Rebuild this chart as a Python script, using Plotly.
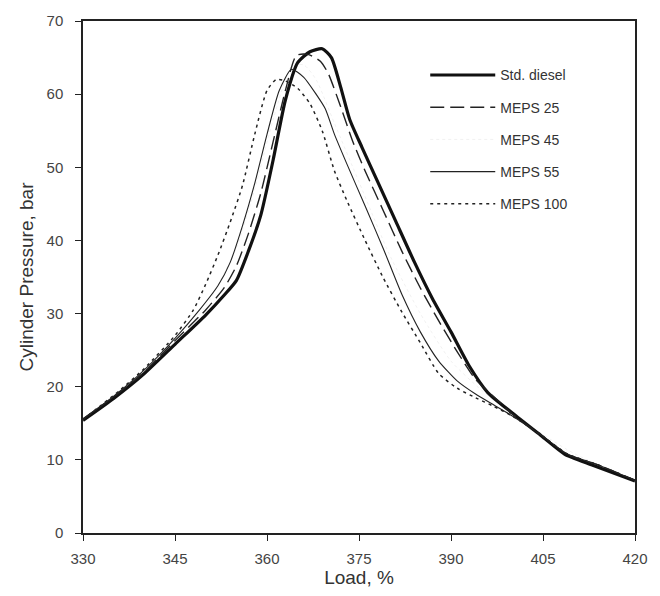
import plotly.graph_objects as go

# ---- data ----
std_x = [330, 335, 340, 345, 350, 353, 355, 357, 359, 361, 363, 365, 367, 369, 370.5, 372, 373.5, 375.5, 378, 381, 384, 387, 390, 393, 396, 400, 405, 408.5, 413, 420]
std_y = [15.4, 18.4, 21.8, 25.8, 29.8, 32.5, 34.5, 38.6, 43.5, 51.0, 59.2, 64.3, 65.8, 66.2, 65.0, 61.0, 56.5, 52.7, 48.1, 42.6, 37.1, 32.0, 27.5, 22.8, 19.2, 16.4, 13.1, 10.8, 9.3, 7.1]

m25_x = [330, 335, 340, 345, 350, 353, 355, 357, 359, 361, 363, 364.8, 366.8, 368.7, 370, 372, 374, 376, 379, 382, 385, 388, 391, 394, 397, 400, 405, 409, 414, 420]
m25_y = [15.6, 18.6, 22.0, 26.3, 30.5, 33.5, 36.5, 41.0, 46.5, 53.5, 60.5, 65.3, 65.4, 64.5, 62.8, 58.3, 53.5, 49.5, 44.0, 38.5, 33.5, 29.0, 24.8, 21.0, 18.6, 16.3, 13.2, 10.7, 9.3, 7.2]

m45_x = [330, 340, 350, 355, 358, 361, 364, 366, 368, 371, 375, 380, 385, 390, 395, 400, 410, 420]
m45_y = [15.5, 22.1, 31.0, 39.0, 47.0, 56.5, 63.8, 64.0, 62.0, 56.0, 48.0, 38.0, 30.0, 23.5, 19.5, 16.2, 10.9, 7.2]

m55_x = [330, 335, 340, 345, 349, 352, 354, 356, 358, 360, 362, 364, 366, 368, 369.5, 371, 373, 376, 379, 382, 385, 388, 391, 394, 397, 400, 405, 409, 414, 420]
m55_y = [15.6, 18.7, 22.3, 26.6, 30.5, 33.8, 37.0, 42.0, 47.8, 54.5, 60.5, 63.4, 62.3, 60.0, 58.0, 54.5, 50.5, 44.7, 38.8, 32.6, 27.5, 23.5, 20.8, 19.0, 17.5, 16.0, 13.2, 10.8, 9.3, 7.2]

m100_x = [330, 333, 336, 340, 345, 348, 350, 352, 354, 356, 358, 360, 361.5, 363, 365, 367, 369, 371, 373, 376, 379, 382, 385, 388, 391, 394, 397, 400, 405, 409, 414, 420]
m100_y = [15.5, 17.5, 19.5, 22.5, 27.0, 30.5, 34.0, 38.0, 42.5, 47.5, 54.5, 60.5, 62.0, 61.8, 60.8, 58.7, 55.0, 49.5, 45.5, 40.0, 34.8, 30.2, 26.0, 21.8, 19.8, 18.5, 17.3, 16.0, 13.2, 10.8, 9.3, 7.2]

names = ["Std. diesel", "MEPS 25", "MEPS 45", "MEPS 55", "MEPS 100"]
x_ticks = [330, 345, 360, 375, 390, 405, 420]
y_ticks = [0, 10, 20, 30, 40, 50, 60, 70]

series = [
    (names[0], std_x, std_y, dict(color="#111111", width=3.2, dash="solid")),
    (names[1], m25_x, m25_y, dict(color="#222222", width=1.4, dash="14px,6px")),
    (names[2], m45_x, m45_y, dict(color="rgba(0,0,0,0.06)", width=1, dash="dot")),
    (names[3], m55_x, m55_y, dict(color="#222222", width=1.1, dash="solid")),
    (names[4], m100_x, m100_y, dict(color="#222222", width=1.5, dash="3px,4px")),
]

fig = go.Figure()
for i, (nm, xs, ys, ln) in enumerate(series):
    fig.add_trace(go.Scatter(x=xs, y=ys, mode="lines", name=nm,
                             line=dict(shape="spline", smoothing=0.6, **ln),
                             legendgroup=f"g{i}"))

fig.update_layout(
    width=660, height=596,
    margin=dict(l=83, r=22, t=21, b=61),
    paper_bgcolor="white", plot_bgcolor="white",
    font=dict(family="Liberation Sans, Arial, sans-serif", color="#333333", size=14),
    showlegend=True,
    legend=dict(x=0.62, y=0.925, xanchor="left", yanchor="top",
                bgcolor="rgba(0,0,0,0)", borderwidth=0,
                tracegroupgap=11, itemwidth=65,
                font=dict(size=14, color="#333333")),
    xaxis=dict(range=[330, 420], tickvals=x_ticks, ticks="outside", ticklen=6,
               tickcolor="#222", showline=True, linecolor="#222", linewidth=1.5,
               mirror=True, showgrid=False, zeroline=False,
               ticklabelstandoff=5,
               tickfont=dict(size=15, color="#444444"),
               title=dict(text="Load, %", font=dict(size=19, color="#333333"), standoff=4)),
    yaxis=dict(range=[0, 70], tickvals=y_ticks, ticks="outside", ticklen=6,
               tickcolor="#222", showline=True, linecolor="#222", linewidth=1.5,
               mirror=True, showgrid=False, zeroline=False,
               ticklabelstandoff=9,
               tickfont=dict(size=15, color="#444444"),
               title=dict(text="Cylinder Pressure, bar", font=dict(size=19, color="#333333"), standoff=8)),
)

fig.write_html("out.html")
